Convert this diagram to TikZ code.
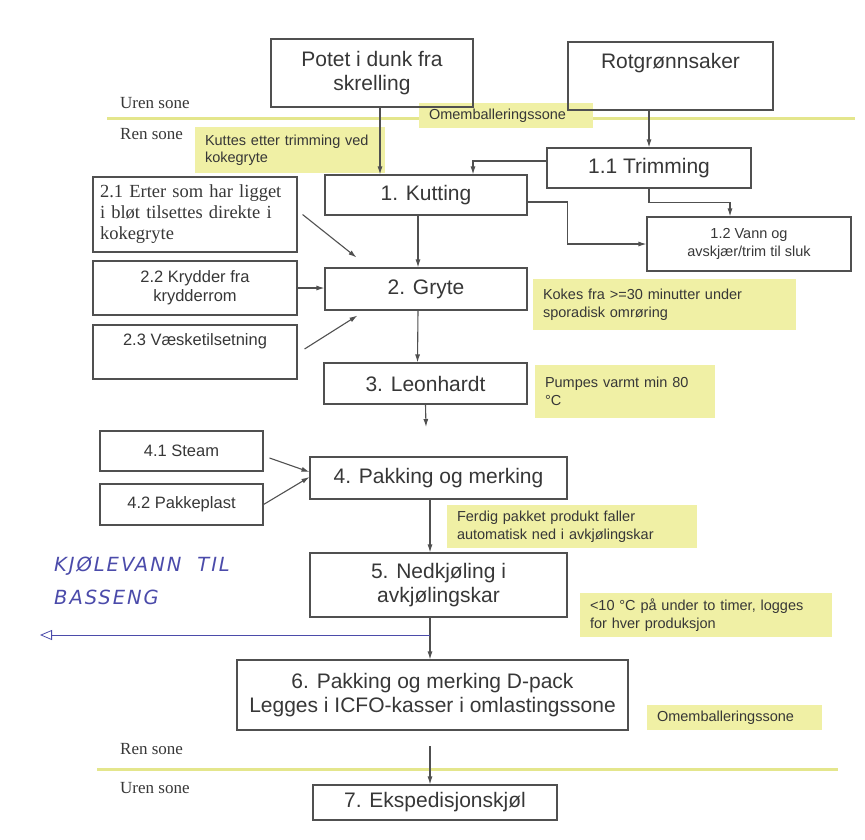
\documentclass[tikz,border=0pt]{standalone}
\usepackage{fontspec}
\setmainfont{Liberation Sans}
\newfontfamily\timesfont{Liberation Serif}
\newfontfamily\penfont[LetterSpace=10]{DejaVu Sans}
\usetikzlibrary{arrows, arrows.meta}

\definecolor{linegray}{RGB}{80,80,80}
\definecolor{txtgray}{RGB}{55,55,55}
\definecolor{notey}{RGB}{240,240,165}
\definecolor{zoney}{RGB}{228,230,140}
\definecolor{penblue}{RGB}{75,75,170}

\begin{document}
\begin{tikzpicture}[x=1pt,y=-1pt]

\tikzset{proc/.style = {shape=rectangle,draw=linegray,line width=1.1pt,text=txtgray,align=center,inner sep=4pt,font=\fontsize{21}{24}\selectfont}}
\tikzset{sub/.style = {proc,font=\fontsize{16.5}{19}\selectfont}}
\tikzset{note/.style = {shape=rectangle,fill=notey,text=txtgray,align=left,inner xsep=10pt,inner ysep=3pt,font=\fontsize{14.5}{17.5}\selectfont}}
\tikzset{zone/.style = {text=txtgray,anchor=west,inner sep=0pt,font=\timesfont\fontsize{17}{20}\selectfont}}
\tikzset{hand/.style = {text=penblue,anchor=west,align=left,inner sep=0pt,font=\penfont\itshape\fontsize{19.5}{33}\selectfont}}
\tikzset{edge/.style = {->,> = {Latex[length=8pt,width=5pt]},draw=linegray,line width=1.1pt}}

\useasboundingbox (0,0) rectangle (865,839);

%zone lines
\draw[zoney,line width=3pt] (107,118) -- (855,118);
\draw[zoney,line width=3pt] (97,769) -- (838,769);
\node[zone] (uren1) at (120,103) {Uren sone};
\node[zone] (ren1) at (120,134) {Ren sone};
\node[zone] (ren2) at (120,749) {Ren sone};
\node[zone] (uren2) at (120,788) {Uren sone};

%notes
\node[note,text width=154pt,minimum height=25pt] (omb1) at (506,115.5) {Omemballeringssone};
\node[note,text width=170pt,minimum height=46pt] (kuttes) at (290,150) {Kuttes etter trimming ved\\kokegryte};
\node[note,text width=243pt,minimum height=51pt] (kokes) at (664.5,304.5) {Kokes fra >=30 minutter under\\sporadisk omrøring};
\node[note,text width=160pt,minimum height=53pt] (pumpes) at (625,391.5) {Pumpes varmt min 80\\°C};
\node[note,text width=230pt,minimum height=43pt] (ferdig) at (572,526.5) {Ferdig pakket produkt faller\\automatisk ned i avkjølingskar};
\node[note,text width=232pt,minimum height=44pt] (temp) at (706,615) {<10 °C på under to timer, logges\\for hver produksjon};
\node[note,text width=155pt,minimum height=25pt] (omb2) at (734.5,717.5) {Omemballeringssone};

%boxes
\node[proc,minimum width=202pt,minimum height=68pt] (pot) at (372,73) {Potet i dunk fra\\skrelling};
\node[proc,minimum width=205pt,minimum height=68pt] (rot) at (670.5,76) {Rotgrønnsaker\\\strut};
\node[proc,minimum width=202pt,minimum height=40pt] (kut) at (426,195) {1. Kutting};
\node[proc,minimum width=204pt,minimum height=40pt] (trim) at (649,168) {1.1 Trimming};
\node[proc,font=\fontsize{14.5}{18}\selectfont,minimum width=204pt,minimum height=54pt] (vann) at (749,244) {1.2 Vann og\\avskjær/trim til sluk};
\node[proc,font=\timesfont\fontsize{18.5}{21}\selectfont,align=left,text width=190pt,inner xsep=7pt,minimum height=75pt] (ert) at (195,214.5) {2.1 Erter som har ligget\\i bløt tilsettes direkte i\\kokegryte};
\node[sub,minimum width=204pt,minimum height=54pt] (kry) at (195,288) {2.2 Krydder fra\\krydderrom};
\node[proc,minimum width=202pt,minimum height=42pt] (gry) at (426,289) {2. Gryte};
\node[sub,minimum width=204pt,minimum height=54pt] (vae) at (195,352) {2.3 Væsketilsetning\\\strut};
\node[proc,minimum width=203pt,minimum height=41pt] (leo) at (425.5,383.5) {3. Leonhardt};
\node[sub,minimum width=163pt,minimum height=40pt] (steam) at (181.5,451) {4.1 Steam};
\node[sub,minimum width=163pt,minimum height=41pt] (plast) at (181.5,504.5) {4.2 Pakkeplast};
\node[proc,minimum width=257pt,minimum height=42pt] (pak) at (438.5,478) {4. Pakking og merking};
\node[proc,minimum width=257pt,minimum height=64pt] (ned) at (438.5,585) {5. Nedkjøling i\\avkjølingskar};
\node[proc,minimum width=391pt,minimum height=70pt] (dpack) at (432.5,695) {6. Pakking og merking D-pack\\Legges i ICFO-kasser i omlastingssone};
\node[proc,minimum width=244pt,minimum height=35pt] (eksp) at (435,802.5) {7. Ekspedisjonskjøl};

%free ends
\coordinate (leoend) at (426,427);
\coordinate (tap) at (430,635);
\coordinate (basseng) at (40,635);
\coordinate (utlast) at (430,746);

%edges
\draw[edge] ([xshift=8pt]pot.south) -- ([xshift=8pt]pot.south |- kut.north);
\draw[edge] (trim.north |- rot.south) -- (trim.north);
\draw[edge] ([yshift=7pt]trim.west) -| ([xshift=47pt]kut.north);
\draw[edge] (trim.south) -- ++(0,14) -| ([xshift=-19pt]vann.north);
\draw[edge] ([yshift=-7pt]kut.east) -- ++(40,0) |- (vann.west);
\draw[edge] ([xshift=5pt]ert.east) -- ([shift={(32pt,10pt)}]gry.north west);
\draw[edge] ([xshift=-8pt]kut.south) -- ([xshift=-8pt]gry.north);
\draw[edge] (kry.east) -- (kry.east -| gry.west);
\draw[edge] ([shift={(7pt,3pt)}]vae.east) -- ([shift={(33pt,-5pt)}]gry.south west);
\draw[edge] ([xshift=-8pt]gry.south) -- ([xshift=-8pt]leo.north);
\draw[edge] (leo.south) -- (leoend);
\draw[edge] ([shift={(6pt,-7pt)}]steam.east) -- ([yshift=6pt]pak.west);
\draw[edge] (plast.east) -- ([yshift=1pt]pak.west);
\draw[edge] ([xshift=-8.5pt]pak.south) -- ([xshift=-8.5pt]ned.north);
\draw[edge] ([xshift=-8.5pt]ned.south) -- ([xshift=-2.5pt]dpack.north);
\draw[edge] (utlast) -- (utlast |- eksp.north);

%cooling water
\draw[penblue,line width=0.8pt,-{Triangle[open,length=12pt,width=10pt]}] (tap) -- (basseng);
\node[hand] (kjolevann) at (54,581) {KJØLEVANN\hspace{16pt}TIL\\BASSENG};

\end{tikzpicture}
\end{document}
